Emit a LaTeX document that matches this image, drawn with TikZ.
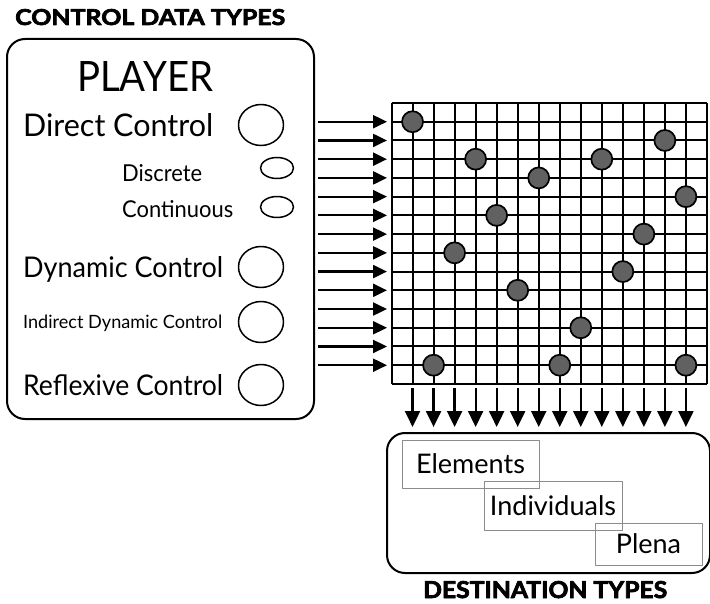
\documentclass[tikz,border=0pt]{standalone}
\usepackage{graphicx}
\usepackage{fontspec}
\setmainfont{Lato}
\newfontfamily\heavy{Lato}[FakeBold=3]
\usetikzlibrary{arrows.meta,shapes.geometric}
\newcommand{\fitto}[3]{\resizebox{#1pt}{#2pt}{#3}}
\begin{document}
\begin{tikzpicture}[x=1pt,y=-1pt,line join=round,
  frame/.style={draw,line width=2pt,rounded corners=18pt,anchor=north west,inner sep=0pt},
  lbl/.style={anchor=base west,inner sep=0pt,font=\fontsize{28}{28}\selectfont},
  ring/.style={draw,line width=1.5pt,ellipse,minimum width=45pt,minimum height=41pt,inner sep=0pt},
  smallring/.style={draw,line width=1.5pt,ellipse,minimum width=33pt,minimum height=21pt,inner sep=0pt},
  dot/.style={circle,draw,line width=1.7pt,fill=black!62,minimum size=21pt,inner sep=0pt},
  gridline/.style={line width=2pt},
  inarrow/.style={line width=2.2pt,-{Triangle[length=14pt,width=13pt]}},
  outarrow/.style={line width=2.2pt,-{Triangle[length=16pt,width=15pt]}},
  tbox/.style={draw=black!45,line width=1pt,inner sep=0pt},
  heading/.style={inner sep=0pt,font=\heavy\bfseries\fontsize{22}{22}\selectfont},
  dest/.style={font=\fontsize{27}{27}\selectfont}]
\useasboundingbox (0,0) rectangle (710,604);

% control data types
\node[anchor=base west,heading] (ctitle) at (15,25) {\fitto{270}{16}{CONTROL DATA TYPES}};
\node[frame,minimum width=307pt,minimum height=380pt] (player) at (6,38) {};
\node[lbl] (ptitle) at (77,92) {\fitto{136}{30}{PLAYER}};
\node[lbl] (direct) at (23,137) {\fitto{190}{23}{Direct Control}};
\node[lbl] (discrete) at (122,182) {\fitto{80}{17}{Discrete}};
\node[lbl] (contin) at (122,218) {\fitto{111}{17}{Continuous}};
\node[lbl] (dynamic) at (23,277) {\fitto{200}{21}{Dynamic Control}};
\node[lbl] (indirect) at (23,328) {\fitto{199}{13.5}{Indirect Dynamic Control}};
\node[lbl] (reflex) at (23,395) {\fitto{200}{21}{Reflexive Control}};
\node[ring] (c1) at (261,125) {};
\node[smallring] (c2) at (277,168) {};
\node[smallring] (c3) at (277,207) {};
\node[ring] (c4) at (261,267) {};
\node[ring] (c5) at (261,322) {};
\node[ring] (c6) at (261,385) {};

% grid
\foreach \i in {0,...,15}{
  \draw[gridline] ({391.5+\i*21.03},103) -- ({391.5+\i*21.03},384);
  \draw[gridline] (391.5,{103+\i*18.73}) -- (707,{103+\i*18.73});
}
\foreach \i in {1,...,14}{
  \coordinate (src\i) at (318,{103+\i*18.73});
  \coordinate (tip\i) at (387,{103+\i*18.73});
  \draw[inarrow] (src\i) -- (tip\i);
  \coordinate (top\i) at ({391.5+\i*21.03},388);
  \coordinate (bot\i) at ({391.5+\i*21.03},427);
  \draw[outarrow] (top\i) -- (bot\i);
}
\foreach \c/\r [count=\k] in {1/1,13/2,4/3,10/3,7/4,14/5,5/6,12/7,3/8,11/9,6/10,9/12,2/14,8/14,14/14}{
  \node[dot] (d\k) at ({391.5+\c*21.03},{103+\r*18.73}) {};
}

% destination types
\node[frame,minimum width=323pt,minimum height=140pt] (destbox) at (386,432) {};
\node[tbox,dest,minimum width=137pt,minimum height=48pt] (elem) at (470.5,464) {Elements};
\node[tbox,dest,minimum width=138pt,minimum height=49pt] (indiv) at (553,505.5) {Individuals};
\node[tbox,dest,minimum width=107pt,minimum height=42pt] (plena) at (648.5,544) {Plena};
\node[anchor=base west,heading] (dtitle) at (423,598) {\fitto{244}{17}{DESTINATION TYPES}};
\end{tikzpicture}
\end{document}
